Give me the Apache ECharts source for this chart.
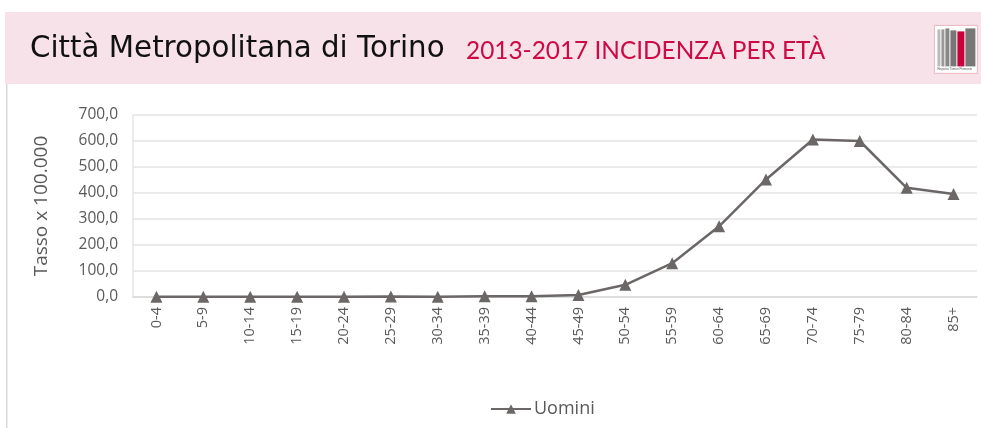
<!DOCTYPE html>
<html>
<head>
<meta charset="utf-8">
<script src="https://cdn.jsdelivr.net/npm/echarts@6/dist/echarts.min.js"></script>
<style>
  html, body { margin: 0; padding: 0; background: #fff; }
  #map { width: 981px; height: 428px; }
</style>
</head>
<body>
<div id="map"></div>
<script>
let ages = ['0-4', '5-9', '10-14', '15-19', '20-24', '25-29', '30-34', '35-39', '40-44',
    '45-49', '50-54', '55-59', '60-64', '65-69', '70-74', '75-79', '80-84', '85+'];
let uomini = [0.5, 0.5, 0.8, 0.8, 1.0, 2.0, 1.0, 2.5, 3.0, 8.0, 47.0, 130.0, 272.0, 452.0, 606.0, 600.0, 420.0, 396.0];
let yTicks = [0, 100, 200, 300, 400, 500, 600, 700];

let myChart = echarts.init(document.getElementById('map'));
let grey = '#6b6767';
let option = {
    animation: false,
    textStyle: {fontFamily: 'Open Sans'},
    graphic: [
        {type: 'rect', shape: {x: 5, y: 12, width: 976, height: 72}, style: {fill: '#f6e2e8'}, z: -1},
        {type: 'rect', shape: {x: 6, y: 84, width: 1.5, height: 344}, style: {fill: '#d9d9d9'}},
        {type: 'text', left: 30, top: 35, style: {text: 'Città Metropolitana di Torino', font: '29.3px "DejaVu Sans"', fill: '#111'}},
        {type: 'text', left: 466, top: 39, style: {text: '2013-2017 INCIDENZA PER ETÀ', font: '24.4px Lato', fill: '#cc0a46'}},
        // logo
        {type: 'group', left: 934, top: 25, children: [
            {type: 'rect', shape: {x: 0, y: 0, width: 43, height: 48}, style: {fill: '#fff', stroke: '#e8a8b8', lineWidth: 0.8}},
            {type: 'rect', shape: {x: 3, y: 4, width: 3, height: 37}, style: {fill: '#bbb'}},
            {type: 'rect', shape: {x: 7, y: 4, width: 3, height: 37}, style: {fill: '#999'}},
            {type: 'rect', shape: {x: 11, y: 3, width: 4, height: 38}, style: {fill: '#888'}},
            {type: 'rect', shape: {x: 16, y: 5, width: 6, height: 36}, style: {fill: '#777'}},
            {type: 'rect', shape: {x: 23, y: 6, width: 7, height: 35}, style: {fill: '#c8003c'}},
            {type: 'rect', shape: {x: 31, y: 3, width: 10, height: 38}, style: {fill: '#777'}},
            {type: 'text', x: 3, y: 42, style: {text: 'Registro Tumori Piemonte', font: '3px sans-serif', fill: '#555'}}
        ]}
    ],
    legend: {
        top: 395,
        left: 485,
        itemWidth: 40,
        itemHeight: 12,
        itemGap: 4,
        textStyle: {fontSize: 18, color: '#595959', padding: [0, 0, 0, -2]},
        data: ['Uomini']
    },
    grid: {left: 133, right: 4, top: 115, bottom: 131, containLabel: false},
    xAxis: {
        type: 'category',
        data: ages,
        boundaryGap: true,
        axisLine: {lineStyle: {color: '#d9d9d9', width: 1.5}},
        axisTick: {show: false},
        axisLabel: {rotate: 90, color: '#595959', fontSize: 14.5, margin: 10}
    },
    yAxis: {
        type: 'value',
        min: yTicks[0],
        max: yTicks[yTicks.length - 1],
        interval: 100,
        name: 'Tasso x 100.000',
        nameLocation: 'middle',
        nameGap: 82,
        nameTextStyle: {fontSize: 19, color: '#595959'},
        axisLine: {show: true, lineStyle: {color: '#e6e6e6', width: 1.5}},
        axisTick: {show: false},
        splitLine: {lineStyle: {color: '#e3e3e3', width: 1.5}},
        axisLabel: {
            color: '#595959',
            fontSize: 15.5,
            margin: 15,
            formatter: v => v.toFixed(1).replace('.', ',')
        }
    },
    series: [
        {
            name: 'Uomini',
            type: 'line',
            data: uomini,
            symbol: 'triangle',
            symbolSize: 12,
            lineStyle: {color: grey, width: 2.5},
            itemStyle: {color: grey}
        }
    ]
};
myChart.setOption(option);
</script>
</body>
</html>
